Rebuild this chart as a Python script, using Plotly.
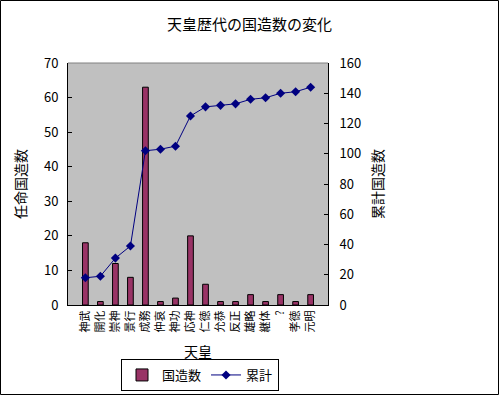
import plotly.graph_objects as go

emperors = ["神武", "開化", "崇神", "景行", "成務", "仲哀", "神功", "応神",
            "仁徳", "允恭", "反正", "雄略", "継体", "?", "孝徳", "元明"]
counts = [18, 1, 12, 8, 63, 1, 2, 20, 6, 1, 1, 3, 1, 3, 1, 3]
cumulative = [18, 19, 31, 39, 102, 103, 105, 125, 131, 132, 133, 136, 137, 140, 141, 144]
left_ticks = [0, 10, 20, 30, 40, 50, 60, 70]
right_ticks = [0, 20, 40, 60, 80, 100, 120, 140, 160]

FONT = "Noto Sans CJK JP, MS PGothic, sans-serif"

fig = go.Figure()
fig.add_trace(go.Bar(
    x=emperors, y=counts, name="国造数",
    marker=dict(color="#993366", line=dict(color="black", width=1)),
    yaxis="y",
))
fig.add_trace(go.Scatter(
    x=emperors, y=cumulative, name="累計", mode="lines+markers",
    line=dict(color="#000080", width=1),
    marker=dict(symbol="diamond", size=7, color="#000080"),
    yaxis="y2",
))

L, R, T, B = 68, 171, 63, 90
W, H = 499, 395
pw, ph = W - L - R, H - T - B

fig.update_layout(
    width=W, height=H,
    margin=dict(l=L, r=R, t=T, b=B, pad=0, autoexpand=False),
    paper_bgcolor="white", plot_bgcolor="#C0C0C0",
    font=dict(family=FONT, size=12, color="black"),
    title=dict(text="天皇歴代の国造数の変化", x=(W / 2) / W, xanchor="center",
               y=1 - 25 / H, yanchor="middle", font=dict(size=15)),
    bargap=0.62,
    showlegend=True,
    legend=dict(orientation="h", x=(200 - L) / pw, xanchor="center",
                y=-(375 - (T + ph)) / ph, yanchor="middle",
                bordercolor="black", borderwidth=1, bgcolor="white",
                font=dict(size=13), itemwidth=30),
    xaxis=dict(
        automargin=False,
        showline=True, linecolor="black", linewidth=1,
        tickangle=-90, tickfont=dict(size=11), ticks="",
        title=dict(text="天皇", font=dict(size=14), standoff=15),
        showgrid=False,
    ),
    yaxis=dict(
        automargin=False,
        range=[0, 70], tickvals=left_ticks, showline=True, linecolor="black",
        linewidth=1, ticks="inside", ticklen=4, tickcolor="black",
        showgrid=False, zeroline=False, tickfont=dict(size=13),
        ticklabelstandoff=6,
        title=dict(text="任命国造数", font=dict(size=14), standoff=14),
    ),
    yaxis2=dict(
        automargin=False,
        range=[0, 160], tickvals=right_ticks, overlaying="y", side="right",
        showline=True, linecolor="black", linewidth=1, ticks="inside",
        ticklen=4, tickcolor="black", showgrid=False, zeroline=False,
        tickfont=dict(size=13), ticklabelstandoff=8,
        title=dict(text="累計国造数", font=dict(size=14), standoff=12),
    ),
    shapes=[
        dict(type="line", xref="paper", yref="paper", x0=0, x1=1, y0=1, y1=1,
             line=dict(color="#808080", width=1)),
        dict(type="rect", xref="paper", yref="paper",
             x0=(0.5 - L) / pw, x1=(W - 0.5 - L) / pw,
             y0=-(B - 0.5) / ph, y1=(ph + T - 0.5) / ph,
             line=dict(color="black", width=1)),
    ],
)

fig.write_html("out.html", config={"displayModeBar": False},
               post_script="document.body.style.margin='0';document.body.style.overflow='hidden';")
